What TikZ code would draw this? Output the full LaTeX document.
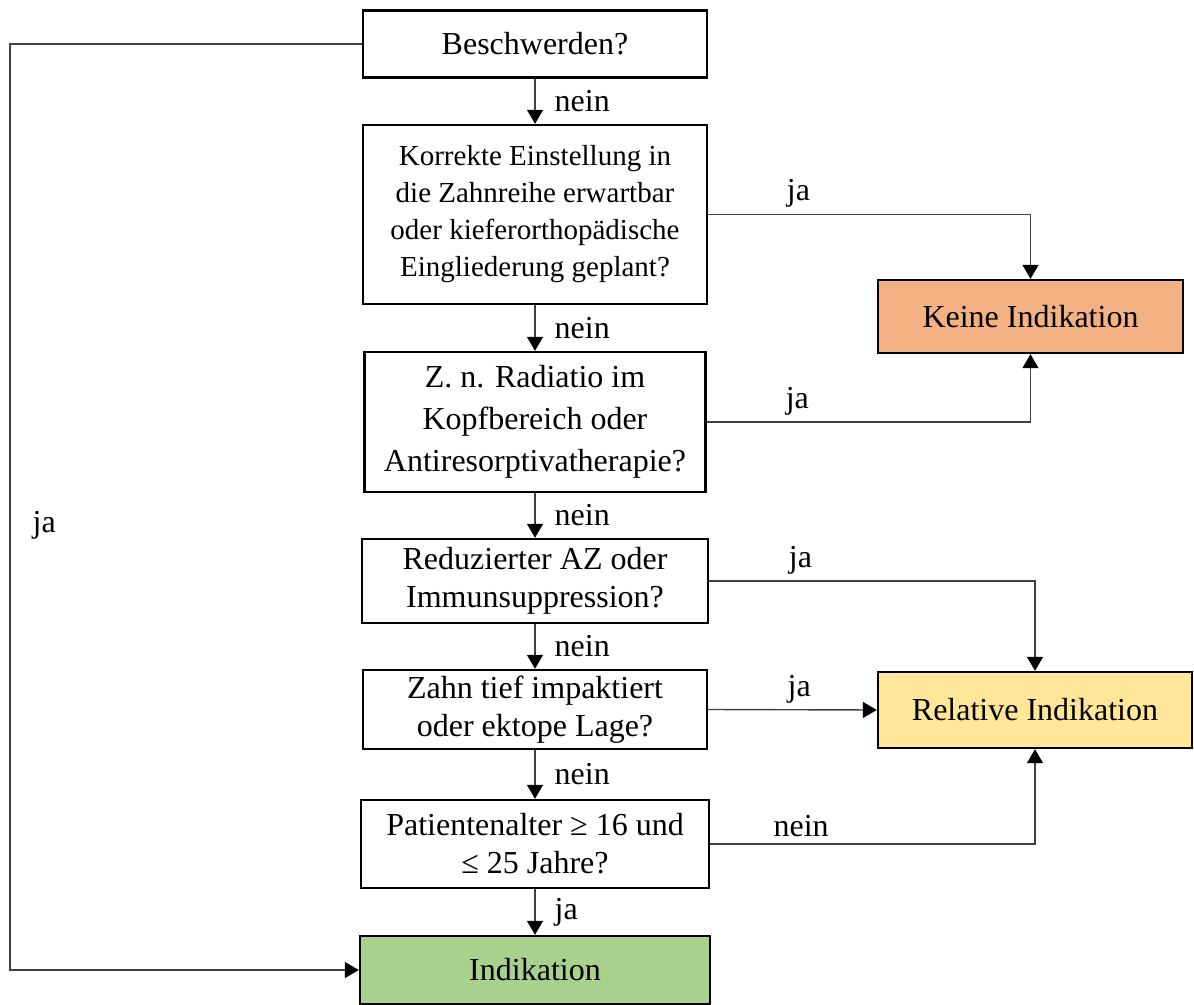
\documentclass[tikz,border=0pt]{standalone}
\usepackage{fontspec}
\setmainfont{Liberation Serif}
\usetikzlibrary{arrows.meta,positioning}
\definecolor{keinecol}{HTML}{F4B183}
\definecolor{relcol}{HTML}{FFE699}
\definecolor{indcol}{HTML}{A9D18E}

\begin{document}
\begin{tikzpicture}[x=0.5pt,y=-0.5pt,
    box/.style={draw, line width=1.2pt, align=center, inner sep=0pt, font=\fontsize{16}{19}\selectfont},
    conn/.style={draw=black!75, line width=0.7pt},
    lbl/.style={font=\fontsize{16}{19}\selectfont, inner sep=3pt},
    >={Triangle[length=7pt,width=8pt,color=black]}]
\useasboundingbox (0,0) rectangle (1194,1005);
% questions
\node[box, minimum width=172pt, minimum height=33.5pt] (besch) at (535,44) {Beschwerden?};
\node[box, minimum width=172pt, minimum height=89.5pt, font=\fontsize{14.5}{18.5}\selectfont] (korr) at (535,214.5)
    {Korrekte Einstellung in\\die Zahnreihe erwartbar\\oder kieferorthopädische\\Eingliederung geplant?};
\node[box, minimum width=170.5pt, minimum height=70pt, font=\fontsize{16}{21}\selectfont] (radi) at (535,422)
    {Z. n. Radiatio im\\Kopfbereich oder\\Antiresorptivatherapie?};
\node[box, minimum width=173pt, minimum height=42pt] (redu) at (535,581) {Reduzierter AZ oder\\Immunsuppression?};
\node[box, minimum width=172pt, minimum height=39.5pt] (zahn) at (535,709.5) {Zahn tief impaktiert\\oder ektope Lage?};
\node[box, minimum width=174pt, minimum height=44pt] (pat) at (535,844) {Patientenalter ≥ 16 und\\≤ 25 Jahre?};
% results
\node[box, fill=indcol, minimum width=175pt, minimum height=34pt] (indik) at (535,970) {Indikation};
\node[box, fill=keinecol, minimum width=152.5pt, minimum height=36.5pt] (keine) at (1030.5,316.5) {Keine Indikation};
\node[box, fill=relcol, minimum width=157pt, minimum height=38pt] (relat) at (1035,710) {Relative Indikation};
% downward path
\foreach \a/\b/\t in {besch/korr/nein, korr/radi/nein, radi/redu/nein, redu/zahn/nein, zahn/pat/nein, pat/indik/ja}
    \draw[conn, ->] (\a.south) -- node[lbl, right=6.5pt]{\t} (\a.south |- \b.north);
% branches to the right
\draw[conn, ->] (korr.east) -| node[lbl, above, pos=0.14]{ja} (keine.north);
\draw[conn, ->] (radi.east) -| node[lbl, above, pos=0.14]{ja} (keine.south);
\draw[conn, ->] (redu.east) -| node[lbl, above, pos=0.14]{ja} (relat.north);
\draw[conn, ->] (zahn.east) -- node[lbl, above, pos=0.54]{ja} (relat.west);
\draw[conn, ->] (pat.east) -| node[lbl, above, pos=0.14]{nein} (relat.south);
% left loop
\coordinate (lcorner) at (10,44);
\draw[conn, ->] (besch.west) -- (lcorner) |- node[lbl, right=8pt, pos=0.26]{ja} (indik.west);
\end{tikzpicture}
\end{document}
